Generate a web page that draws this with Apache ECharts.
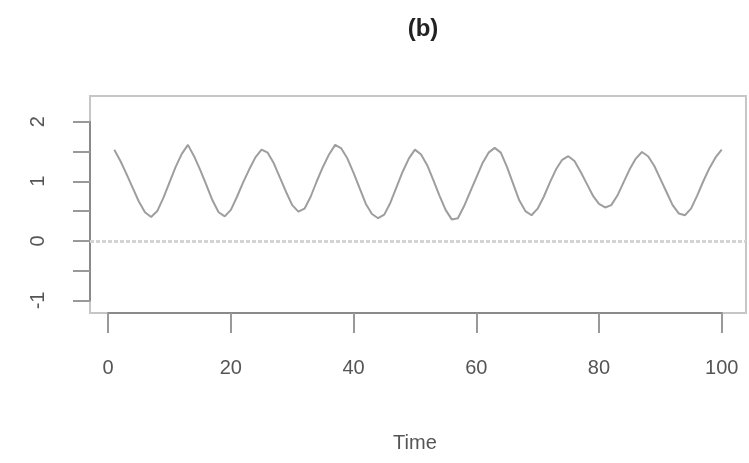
<!DOCTYPE html>
<html>
<head>
<meta charset="utf-8">
<title>(b)</title>
<script src="https://cdn.jsdelivr.net/npm/echarts@6/dist/echarts.min.js"></script>
<style>
  html, body { margin: 0; padding: 0; background: #ffffff; }
  #chart { width: 749px; height: 463px; }
</style>
</head>
<body>
<div id="chart"></div>
<script>
// Series values observed at Time = 1..100
var seriesValues = [
  1.53, 1.34, 1.12, 0.89, 0.66, 0.48, 0.40, 0.50,
  0.72, 0.98, 1.24, 1.46, 1.61, 1.42,
  1.19, 0.94, 0.68, 0.48, 0.41, 0.52,
  0.74, 0.98, 1.20, 1.40, 1.53, 1.48,
  1.30, 1.06, 0.82, 0.60, 0.49, 0.54,
  0.74, 1.00, 1.24, 1.45, 1.61, 1.55,
  1.38, 1.14, 0.88, 0.62, 0.45, 0.38, 0.44,
  0.64, 0.90, 1.16, 1.38, 1.53, 1.45,
  1.27, 1.02, 0.76, 0.52, 0.36, 0.38,
  0.58, 0.82, 1.06, 1.30, 1.48, 1.56, 1.48,
  1.24, 0.96, 0.68, 0.50, 0.43, 0.54,
  0.74, 0.98, 1.20, 1.36, 1.42, 1.34,
  1.16, 0.96, 0.76, 0.62, 0.56, 0.60,
  0.76, 0.98, 1.20, 1.38, 1.49, 1.42,
  1.26, 1.04, 0.82, 0.60, 0.46, 0.43, 0.54,
  0.76, 1.00, 1.22, 1.40, 1.53
];
var timeStart = 1;
var xTicks = [0, 20, 40, 60, 80, 100];
var yTicks = [-1, -0.5, 0, 0.5, 1, 1.5, 2];
var yLabelled = [-1, 0, 1, 2];
var refLevel = 0;

// Plot region (pixels) and the padded data limits of the frame
var box = { left: 90, right: 746, top: 96, bottom: 313 };
var xLim = [-2.96, 103.96];
var yLim = [-1.21, 2.43];

var points = seriesValues.map(function (v, i) { return [timeStart + i, v]; });

// The axis grid only spans the tick range, like base-graphics axes
var pxX = (box.right - box.left) / (xLim[1] - xLim[0]);
var pxY = (box.bottom - box.top) / (yLim[1] - yLim[0]);
var axLeft = box.left + (xTicks[0] - xLim[0]) * pxX;
var axRight = box.left + (xTicks[xTicks.length - 1] - xLim[0]) * pxX;
var axTop = box.top + (yLim[1] - yTicks[yTicks.length - 1]) * pxY;
var axBottom = box.top + (yLim[1] - yTicks[0]) * pxY;

var W = 749, H = 463;
var font = 'Liberation Sans, Arial, Helvetica, sans-serif';
var labelColor = '#555555';
var axisColor = '#8a8a8a';

var chart = echarts.init(document.getElementById('chart'), null, { renderer: 'canvas' });
chart.setOption({
  animation: false,
  backgroundColor: '#ffffff',
  title: {
    text: '(b)',
    left: (box.left + box.right) / 2,
    textAlign: 'center',
    top: 12,
    textStyle: { fontFamily: font, fontWeight: 'bold', fontSize: 24, color: '#222222' }
  },
  grid: [
    {
      left: box.left, right: W - box.right, top: box.top, bottom: H - box.bottom,
      show: true, borderColor: '#c6c6c6', borderWidth: 2, backgroundColor: 'transparent'
    },
    {
      left: axLeft, right: W - axRight, top: axTop, bottom: H - axBottom,
      show: false
    }
  ],
  xAxis: [
    {
      gridIndex: 0, type: 'value', min: xLim[0], max: xLim[1],
      axisLine: { show: false }, axisTick: { show: false },
      axisLabel: { show: false }, splitLine: { show: false }
    },
    {
      gridIndex: 1, type: 'value', min: xTicks[0], max: xTicks[xTicks.length - 1],
      interval: 20, offset: box.bottom - axBottom, position: 'bottom',
      name: 'Time', nameLocation: 'middle', nameGap: 120,
      nameTextStyle: { fontFamily: font, fontSize: 20, color: labelColor },
      axisLine: { show: true, onZero: false, lineStyle: { color: axisColor, width: 2 } },
      axisTick: { show: true, inside: false, length: 20, lineStyle: { color: '#999999', width: 2 } },
      axisLabel: { show: true, margin: 45, fontFamily: font, fontSize: 20, color: labelColor },
      splitLine: { show: false }
    }
  ],
  yAxis: [
    {
      gridIndex: 0, type: 'value', min: yLim[0], max: yLim[1],
      axisLine: { show: false }, axisTick: { show: false },
      axisLabel: { show: false }, splitLine: { show: false }
    },
    {
      gridIndex: 1, type: 'value', min: yTicks[0], max: yTicks[yTicks.length - 1],
      interval: 0.5, offset: axLeft - box.left, position: 'left',
      axisLine: { show: true, onZero: false, lineStyle: { color: axisColor, width: 2 } },
      axisTick: { show: true, inside: false, length: 17, lineStyle: { color: '#999999', width: 2 } },
      axisLabel: {
        show: true, rotate: 90, margin: 42,
        fontFamily: font, fontSize: 20, color: labelColor,
        formatter: function (v) {
          return yLabelled.indexOf(v) >= 0 ? String(v) : '';
        }
      },
      splitLine: { show: false }
    }
  ],
  series: [
    {
      type: 'line',
      xAxisIndex: 0, yAxisIndex: 0,
      data: points,
      showSymbol: false,
      lineStyle: { color: '#9e9e9e', width: 2 },
      silent: true,
      markLine: {
        silent: true,
        symbol: 'none',
        label: { show: false },
        lineStyle: { color: '#d4d4d4', width: 3, type: [4, 2] },
        data: [{ yAxis: refLevel }]
      }
    }
  ]
});
</script>
</body>
</html>
